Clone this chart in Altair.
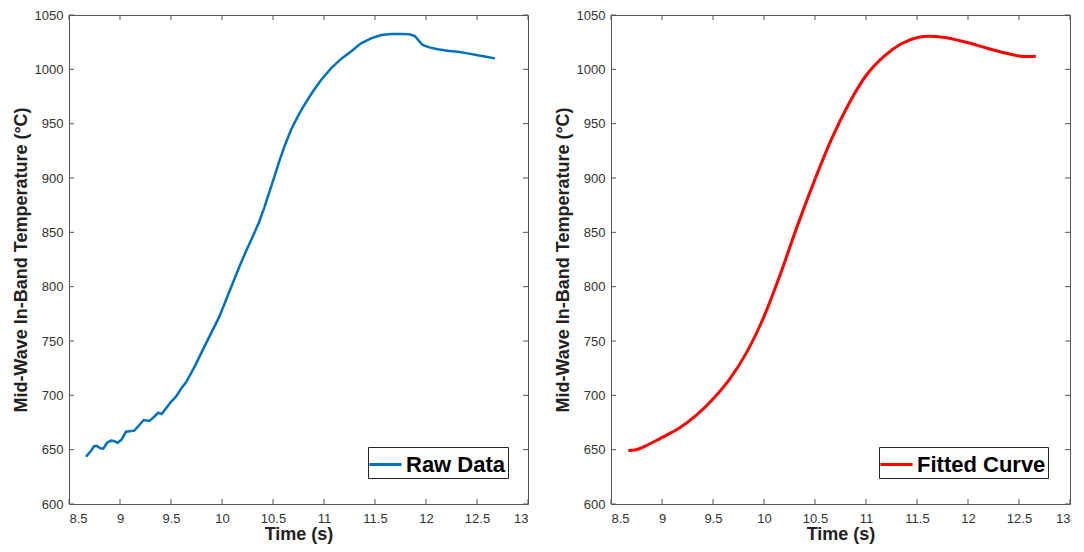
import altair as alt
import pandas as pd

raw_t = [8.667, 8.716, 8.748, 8.775, 8.807, 8.836, 8.873, 8.912, 8.938, 8.977, 9.017, 9.059, 9.108, 9.14,
         9.19, 9.232, 9.287, 9.336, 9.375, 9.409, 9.451, 9.5, 9.549, 9.598, 9.647, 9.696, 9.745, 9.827,
         9.892, 9.974, 10.039, 10.105, 10.17, 10.235, 10.301, 10.366, 10.415, 10.464, 10.513, 10.562,
         10.611, 10.676, 10.742, 10.807, 10.889, 10.971, 11.069, 11.167, 11.265, 11.363, 11.461, 11.559,
         11.657, 11.755, 11.836, 11.892, 11.925, 11.967, 12.033, 12.114, 12.213, 12.311, 12.409, 12.507,
         12.588, 12.676]
raw_T = [643.5, 649, 653.4, 653.4, 651.2, 651, 656.4, 658.3, 658, 656.4, 659.5, 666.5, 667.2, 667.5,
         672.7, 677.3, 676.4, 680.3, 684, 682.8, 688, 694.1, 698.7, 706, 712, 720.3, 729, 744.8,
         757, 772.4, 787.7, 803.1, 818.4, 832.5, 846, 860, 873, 887, 901, 915.5,
         928.8, 944.2, 956.4, 967.2, 979.4, 990.2, 1000.9, 1009.6, 1016.5, 1024, 1028.5, 1031.6,
         1032.5, 1032.5, 1032.2, 1030.6, 1026.9, 1022.4, 1020.2, 1018.4, 1017.1, 1016.2, 1014.7, 1012.9,
         1011.6, 1010.1]

fit_t = [8.67, 8.745, 8.83, 8.993, 9.17, 9.34, 9.493, 9.663, 9.833, 10.003, 10.156, 10.326, 10.496,
         10.666, 10.836, 11.006, 11.176, 11.346, 11.516, 11.618, 11.754, 11.992, 12.196, 12.366, 12.519,
         12.604, 12.665]
fit_T = [649.2, 649.9, 653.1, 660.9, 669.9, 682, 696, 715, 740, 773.2, 810.4, 855.7, 897.8,
         936.6, 969.0, 995, 1012, 1023.5, 1029.5, 1030.5, 1029.6, 1024.7, 1019.2, 1015, 1012.1,
         1011.7, 1012.1]

x_ticks = [8.5, 9, 9.5, 10, 10.5, 11, 11.5, 12, 12.5, 13]
y_ticks = [600, 650, 700, 750, 800, 850, 900, 950, 1000, 1050]

W, H = 459, 489
TICK = 5
FONT = "Liberation Sans"

xscale = alt.Scale(domain=[8.5, 13], nice=False, zero=False)
yscale = alt.Scale(domain=[600, 1050], nice=False, zero=False)

xaxis = alt.Axis(values=x_ticks, format="~g", title="Time (s)", grid=False, domain=False,
                 tickSize=0, labelPadding=8.5, titlePadding=0)
yaxis = alt.Axis(values=y_ticks, format="d", title="Mid-Wave In-Band Temperature (°C)", grid=False,
                 domain=False, tickSize=0, labelPadding=6, titlePadding=4)

xt_df = pd.DataFrame({"t": x_ticks})
yt_df = pd.DataFrame({"T": y_ticks})


def panel(t, T, name, color, width, lx, interp):
    df = pd.DataFrame({"t": t, "T": T, "series": name})
    line = alt.Chart(df).mark_line(strokeWidth=width, interpolate=interp, clip=True).encode(
        x=alt.X("t:Q", scale=xscale, axis=xaxis),
        y=alt.Y("T:Q", scale=yscale, axis=yaxis),
        color=alt.Color("series:N", scale=alt.Scale(domain=[name], range=[color]),
                        legend=alt.Legend(title=None, orient="none", legendX=lx, legendY=432,
                                          symbolType="M-1.15,0H1.15", symbolSize=784, symbolStrokeWidth=3,
                                          labelFontSize=22, labelFontWeight="bold", labelFont=FONT,
                                          labelColor="#000000", labelOffset=5, padding=2,
                                          strokeColor="#262626", fillColor="#ffffff", cornerRadius=0)),
    )
    tick_style = dict(color="#555555", strokeWidth=1)
    xb = alt.Chart(xt_df).mark_rule(**tick_style).encode(
        x=alt.X("t:Q", scale=xscale), y=alt.value(H), y2=alt.value(H - TICK))
    xtp = alt.Chart(xt_df).mark_rule(**tick_style).encode(
        x=alt.X("t:Q", scale=xscale), y=alt.value(0), y2=alt.value(TICK))
    yl = alt.Chart(yt_df).mark_rule(**tick_style).encode(
        y=alt.Y("T:Q", scale=yscale), x=alt.value(0), x2=alt.value(TICK))
    yr = alt.Chart(yt_df).mark_rule(**tick_style).encode(
        y=alt.Y("T:Q", scale=yscale), x=alt.value(W), x2=alt.value(W - TICK))
    return alt.layer(xb, xtp, yl, yr, line).properties(width=W, height=H)


left = panel(raw_t, raw_T, "Raw Data", "#0072BD", 2.5, 299, "linear")
right = panel(fit_t, fit_T, "Fitted Curve", "#FF0000", 3, 268, "monotone")

chart = alt.hconcat(left, right, spacing=24).resolve_scale(color="independent").properties(
    padding={"left": 3, "top": 0, "right": 2, "bottom": 0}
).configure_view(stroke="#555555", strokeWidth=1).configure_axis(
    labelFont=FONT, labelFontSize=13, labelColor="#333333",
    titleFont=FONT, titleFontSize=18, titleFontWeight="bold", titleColor="#222222"
)

chart.save("out.html", embed_options={"renderer": "svg", "actions": False})
